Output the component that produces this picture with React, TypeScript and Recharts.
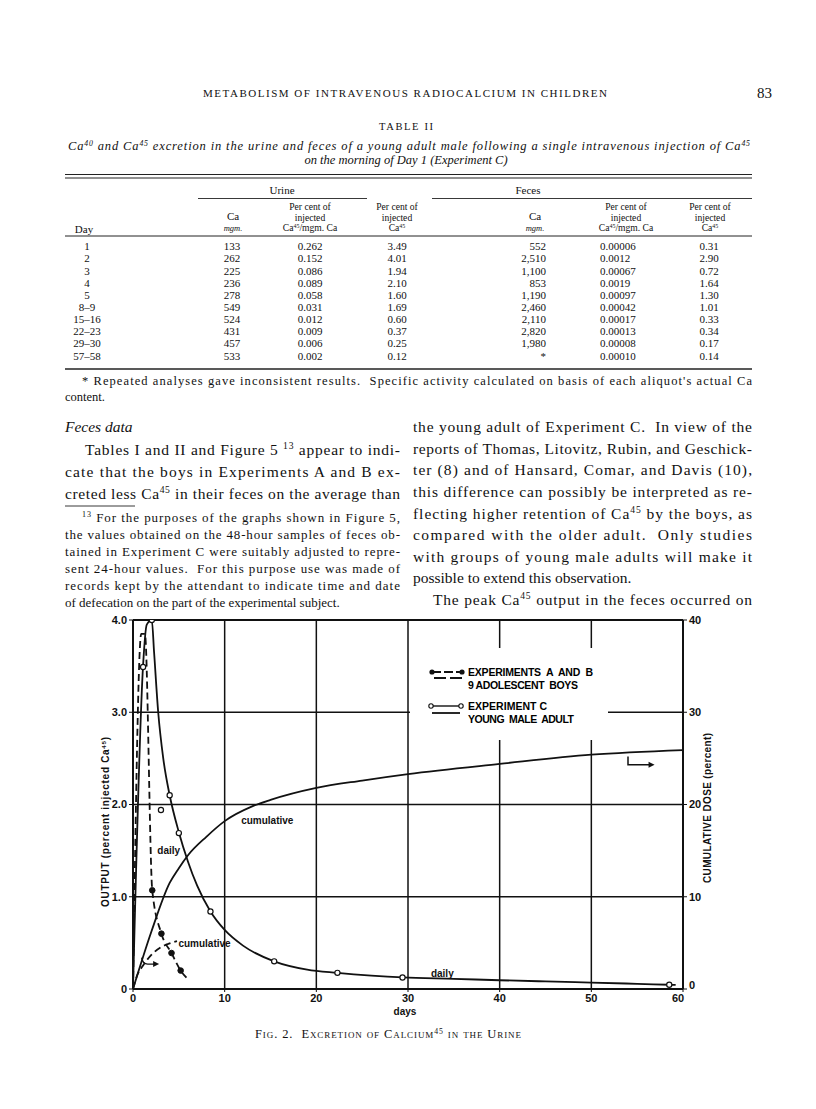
import React from 'react';
import { ComposedChart, Line, XAxis, YAxis, CartesianGrid, ReferenceLine, Legend } from 'recharts';

// ---------- chart data ----------
const xTicks = [0, 10, 20, 30, 40, 50, 60];
const leftTicks = [0, 1, 2, 3, 4];
const rightTicks = [0, 10, 20, 30, 40];

// Experiment C, daily output curve (left axis, % injected Ca45)
const cDailyCurve = [
  { x: 0, y: 0 }, { x: 1.1, y: 3.51 }, { x: 1.5, y: 3.95 }, { x: 2.05, y: 4.0 }, { x: 2.3, y: 3.65 },
  { x: 2.75, y: 3.0 }, { x: 3.3, y: 2.5 }, { x: 4.0, y: 2.1 }, { x: 5.0, y: 1.7 }, { x: 6.0, y: 1.38 },
  { x: 7.0, y: 1.12 }, { x: 8.45, y: 0.84 }, { x: 10, y: 0.64 }, { x: 12, y: 0.47 }, { x: 15.4, y: 0.3 },
  { x: 19, y: 0.21 }, { x: 22.3, y: 0.175 }, { x: 26, y: 0.145 }, { x: 29.4, y: 0.125 }, { x: 35, y: 0.11 },
  { x: 40, y: 0.095 }, { x: 45, y: 0.082 }, { x: 50, y: 0.07 }, { x: 55, y: 0.056 }, { x: 58.5, y: 0.046 },
  { x: 59.2, y: 0.044 },
];
// Experiment C, measured daily points
const cDailyPoints = [
  { x: 1.1, y: 3.49 }, { x: 2.05, y: 4.0 }, { x: 3.05, y: 1.94 }, { x: 4.0, y: 2.1 }, { x: 5.0, y: 1.69 },
  { x: 8.45, y: 0.84 }, { x: 15.4, y: 0.3 }, { x: 22.3, y: 0.175 }, { x: 29.4, y: 0.125 }, { x: 58.5, y: 0.046 },
];
// Experiment C, cumulative (right axis, % dose)
const cCumulative = [
  { x: 0, y: 0 }, { x: 2, y: 6.2 }, { x: 4, y: 11.5 }, { x: 5, y: 13.1 }, { x: 6, y: 14.5 }, { x: 8, y: 16.5 },
  { x: 10, y: 18.2 }, { x: 13, y: 19.8 }, { x: 15, y: 20.5 }, { x: 20, y: 21.8 }, { x: 25, y: 22.6 },
  { x: 30, y: 23.3 }, { x: 40, y: 24.4 }, { x: 50, y: 25.4 }, { x: 60, y: 25.9 },
];
// Experiments A and B, daily (left axis)
const abDailyCurve = [
  { x: 0, y: 0 }, { x: 0.9, y: 3.85 }, { x: 1.3, y: 3.85 }, { x: 2.1, y: 1.07 }, { x: 3.1, y: 0.6 },
  { x: 4.2, y: 0.39 }, { x: 5.2, y: 0.2 }, { x: 5.9, y: 0.115 },
];
const abDailyPoints = [
  { x: 2.1, y: 1.07 }, { x: 3.1, y: 0.6 }, { x: 4.2, y: 0.39 }, { x: 5.2, y: 0.2 },
];
// Experiments A and B, cumulative (right axis)
const abCumulative = [
  { x: 0, y: 0 }, { x: 0.5, y: 1.6 }, { x: 1, y: 2.4 }, { x: 2, y: 3.7 }, { x: 3, y: 4.5 }, { x: 4, y: 4.95 }, { x: 4.8, y: 5.2 },
];

// ---------- table data ----------
const dayLabels = ['1', '2', '3', '4', '5', '8–9', '15–16', '22–23', '29–30', '57–58'];
const urineCa = ['133', '262', '225', '236', '278', '549', '524', '431', '457', '533'];
const urineSpec = ['0.262', '0.152', '0.086', '0.089', '0.058', '0.031', '0.012', '0.009', '0.006', '0.002'];
const urinePct = ['3.49', '4.01', '1.94', '2.10', '1.60', '1.69', '0.60', '0.37', '0.25', '0.12'];
const fecesCa = ['552', '2,510', '1,100', '853', '1,190', '2,460', '2,110', '2,820', '1,980', '*'];
const fecesSpec = ['0.00006', '0.0012', '0.00067', '0.0019', '0.00097', '0.00042', '0.00017', '0.00013', '0.00008', '0.00010'];
const fecesPct = ['0.31', '2.90', '0.72', '1.64', '1.30', '1.01', '0.33', '0.34', '0.17', '0.14'];

// ---------- body text ----------
const leftLines = [
  'Tables I and II and Figure 5 ^{13} appear to indi-',
  'cate that the boys in Experiments A and B ex-',
  'creted less Ca^{45} in their feces on the average than',
];
const footLines = [
  '^{13} For the purposes of the graphs shown in Figure 5,',
  'the values obtained on the 48-hour samples of feces ob-',
  'tained in Experiment C were suitably adjusted to repre-',
  'sent 24-hour values.  For this purpose use was made of',
  'records kept by the attendant to indicate time and date',
  'of defecation on the part of the experimental subject.',
];
const rightLines = [
  'the young adult of Experiment C.  In view of the',
  'reports of Thomas, Litovitz, Rubin, and Geschick-',
  'ter (8) and of Hansard, Comar, and Davis (10),',
  'this difference can possibly be interpreted as re-',
  'flecting higher retention of Ca^{45} by the boys, as',
  'compared with the older adult.  Only studies',
  'with groups of young male adults will make it',
  'possible to extend this observation.',
  'The peak Ca^{45} output in the feces occurred on',
];

const SERIF = '"Liberation Serif", "DejaVu Serif", serif';
const SANS = '"Liberation Sans", Arial, sans-serif';

// plot area geometry on the page (for annotations only)
const PX0 = 133, PX1 = 683, PY0 = 989, PY1 = 620;
const px = (d: number) => PX0 + (d * (PX1 - PX0)) / 60;
const py = (v: number) => PY0 - (v * (PY0 - PY1)) / 4;

type TProps = {
  x: number; y: number; s: string; size?: number; anchor?: 'start' | 'middle' | 'end';
  len?: number; italic?: boolean; bold?: boolean; family?: string; spacing?: number; variant?: string;
  rotate?: number;
};

function T({ x, y, s, size = 15, anchor = 'start', len, italic, bold, family = SERIF, spacing, variant, rotate }: TProps) {
  const parts = s.split(/\^\{([^}]*)\}/);
  const children: React.ReactNode[] = [];
  let raised = false;
  parts.forEach((p, i) => {
    if (p === '') return;
    if (i % 2 === 1) {
      children.push(
        <tspan key={i} dy={-size * 0.38} fontSize={size * 0.62}>{p}</tspan>
      );
      raised = true;
    } else {
      children.push(
        <tspan key={i} dy={raised ? size * 0.38 : 0}>{p}</tspan>
      );
      raised = false;
    }
  });
  const base = y + size * 0.34;
  return (
    <text
      x={x}
      y={base}
      fontSize={size}
      fontFamily={family}
      fontStyle={italic ? 'italic' : 'normal'}
      fontWeight={bold ? 'bold' : 'normal'}
      textAnchor={anchor}
      letterSpacing={spacing}
      style={variant ? { fontVariant: variant, whiteSpace: 'pre' } : { whiteSpace: 'pre' }}
      textLength={len}
      lengthAdjust={len ? 'spacing' : undefined}
      fill="#111"
      transform={rotate ? `rotate(${rotate} ${x} ${y})` : undefined}
    >
      {children}
    </text>
  );
}

function PageText() {
  const rowY = (i: number) => 246.5 + i * 12.15;
  const RS = 11;
  const HS = 9.6;
  return (
    <svg width={816} height={1109} style={{ position: 'absolute', left: 0, top: 0 }}>
      {/* running head */}
      <T x={203} y={93} s="METABOLISM OF INTRAVENOUS RADIOCALCIUM IN CHILDREN" size={11} len={404} />
      <T x={772} y={93} s="83" size={15} anchor="end" />
      {/* table title */}
      <T x={406} y={126} s="TABLE II" size={10.5} anchor="middle" len={54} />
      <T x={68} y={146} s="Ca^{40} and Ca^{45} excretion in the urine and feces of a young adult male following a single intravenous injection of Ca^{45}" size={12.5} italic len={682} />
      <T x={406} y={160} s="on the morning of Day 1 (Experiment C)" size={12.5} italic anchor="middle" />
      {/* rules */}
      <line x1={65} x2={752} y1={174.5} y2={174.5} stroke="#222" strokeWidth={1} />
      <line x1={65} x2={752} y1={178} y2={178} stroke="#222" strokeWidth={1} />
      <T x={282} y={190} s="Urine" size={11} anchor="middle" />
      <T x={528} y={190} s="Feces" size={11} anchor="middle" />
      <line x1={198} x2={367} y1={198.5} y2={198.5} stroke="#222" strokeWidth={0.9} />
      <line x1={432} x2={752} y1={198.5} y2={198.5} stroke="#222" strokeWidth={0.9} />
      {/* column headers */}
      <T x={84} y={229} s="Day" size={11} anchor="middle" />
      <T x={233} y={216} s="Ca" size={11} anchor="middle" />
      <T x={233} y={228.5} s="mgm." size={8.5} italic anchor="middle" />
      <T x={310} y={207} s="Per cent of" size={HS} anchor="middle" />
      <T x={310} y={217.5} s="injected" size={HS} anchor="middle" />
      <T x={310} y={228} s="Ca^{45}/mgm. Ca" size={HS} anchor="middle" />
      <T x={397} y={207} s="Per cent of" size={HS} anchor="middle" />
      <T x={397} y={217.5} s="injected" size={HS} anchor="middle" />
      <T x={397} y={228} s="Ca^{45}" size={HS} anchor="middle" />
      <T x={535} y={216} s="Ca" size={11} anchor="middle" />
      <T x={535} y={228.5} s="mgm." size={8.5} italic anchor="middle" />
      <T x={626} y={207} s="Per cent of" size={HS} anchor="middle" />
      <T x={626} y={217.5} s="injected" size={HS} anchor="middle" />
      <T x={626} y={228} s="Ca^{45}/mgm. Ca" size={HS} anchor="middle" />
      <T x={710} y={207} s="Per cent of" size={HS} anchor="middle" />
      <T x={710} y={217.5} s="injected" size={HS} anchor="middle" />
      <T x={710} y={228} s="Ca^{45}" size={HS} anchor="middle" />
      <line x1={65} x2={752} y1={236} y2={236} stroke="#222" strokeWidth={1} />
      {dayLabels.map((d, i) => (
        <g key={i}>
          <T x={87} y={rowY(i)} s={d} size={RS} anchor="middle" />
          <T x={232} y={rowY(i)} s={urineCa[i]} size={RS} anchor="middle" />
          <T x={310} y={rowY(i)} s={urineSpec[i]} size={RS} anchor="middle" />
          <T x={397} y={rowY(i)} s={urinePct[i]} size={RS} anchor="middle" />
          <T x={546} y={rowY(i)} s={fecesCa[i]} size={RS} anchor="end" />
          <T x={600} y={rowY(i)} s={fecesSpec[i]} size={RS} />
          <T x={709} y={rowY(i)} s={fecesPct[i]} size={RS} anchor="middle" />
        </g>
      ))}
      <line x1={65} x2={752} y1={369} y2={369} stroke="#222" strokeWidth={1.6} />
      <T x={82} y={381} s="* Repeated analyses gave inconsistent results.  Specific activity calculated on basis of each aliquot's actual Ca" size={12.5} len={670} />
      <T x={65} y={397} s="content." size={12.5} />

      {/* left column */}
      <T x={65} y={427} s="Feces data" size={15.5} italic />
      {leftLines.map((l, i) => (
        <T key={i} x={i === 0 ? 85 : 65} y={450 + i * 22} s={l} size={15.5} len={i === 0 ? 315 : 335} />
      ))}
      <line x1={65} x2={135} y1={506} y2={506} stroke="#222" strokeWidth={0.9} />
      {footLines.map((l, i) => (
        <T key={i} x={i === 0 ? 82 : 65} y={518 + i * 17} s={l} size={13} len={i === 5 ? undefined : i === 0 ? 318 : 335} />
      ))}
      {/* right column */}
      {rightLines.map((l, i) => (
        <T key={i} x={i === 8 ? 433 : 413} y={427 + i * 21.6} s={l} size={15.5}
          len={i === 7 ? undefined : i === 8 ? 319 : 339} />
      ))}

      {/* axis titles and caption */}
      <T x={106} y={822} s="OUTPUT (percent injected Ca^{45})" size={10} family={SANS} bold anchor="middle" rotate={-90} len={170} />
      <T x={708} y={808} s="CUMULATIVE DOSE (percent)" size={10} family={SANS} bold anchor="middle" rotate={-90} len={150} />
      <T x={405} y={1012} s="days" size={10} family={SANS} bold anchor="middle" />
      <T x={388} y={1034} s="Fig. 2.  Excretion of Calcium^{45} in the Urine" size={12.5} anchor="middle" variant="small-caps" len={266} />

      {/* in-plot annotations */}
      <T x={px(2.65)} y={py(1.5)} s="daily" size={10} family={SANS} bold />
      <T x={px(11.8)} y={py(1.83)} s="cumulative" size={10} family={SANS} bold />
      <T x={px(4.95)} y={py(0.49)} s="cumulative" size={10} family={SANS} bold />
      <T x={px(32.5)} y={py(0.17)} s="daily" size={10} family={SANS} bold />
      {/* small arrows */}
      <path d={`M${px(54)} ${py(2.52)} V${py(2.43)} H${px(56.6)}`} fill="none" stroke="#111" strokeWidth={1.5} />
      <path d={`M${px(56.9)} ${py(2.43)} l-6 -3 v6 z`} fill="#111" />
      <path d={`M${px(0.95)} ${py(0.34)} Q${px(1.05)} ${py(0.27)} ${px(1.6)} ${py(0.27)} H${px(2.5)}`} fill="none" stroke="#111" strokeWidth={1.4} />
      <path d={`M${px(2.85)} ${py(0.27)} l-6 -3 v6 z`} fill="#111" />
    </svg>
  );
}

const openDot = (props: any) => {
  const { cx, cy, index } = props;
  if (cx == null || cy == null) return <g key={index} />;
  return <circle key={index} cx={cx} cy={cy} r={2.6} fill="#fff" stroke="#111" strokeWidth={1.2} />;
};
const filledDot = (props: any) => {
  const { cx, cy, index } = props;
  if (cx == null || cy == null) return <g key={index} />;
  return <circle key={index} cx={cx} cy={cy} r={2.8} fill="#111" stroke="#111" strokeWidth={1} />;
};

const legendTexts = ['EXPERIMENTS  A  AND  B', '9 ADOLESCENT  BOYS', 'EXPERIMENT C', 'YOUNG  MALE  ADULT'];

function LegendBox() {
  return (
    <svg width={198} height={92}>
      <rect x={0} y={0} width={198} height={92} fill="#fff" />
      <line x1={22} x2={52} y1={24} y2={24} stroke="#111" strokeWidth={1.8} strokeDasharray="9 3" />
      <circle cx={22} cy={24} r={2.6} fill="#111" />
      <circle cx={52} cy={24} r={2.6} fill="#111" />
      <line x1={24} x2={52} y1={30} y2={30} stroke="#111" strokeWidth={1.8} strokeDasharray="12 4" />
      <line x1={22} x2={50} y1={58} y2={58} stroke="#111" strokeWidth={1.4} />
      <circle cx={21} cy={58} r={2.2} fill="#fff" stroke="#111" strokeWidth={1.1} />
      <circle cx={51} cy={58} r={2.2} fill="#fff" stroke="#111" strokeWidth={1.1} />
      <line x1={22} x2={50} y1={65} y2={65} stroke="#111" strokeWidth={1.8} />
      <text x={58} y={24 + 3.6} fontSize={10.5} fontFamily={SANS} fontWeight="bold" textLength={125} lengthAdjust="spacing" style={{ whiteSpace: 'pre' }}>{legendTexts[0]}</text>
      <text x={58} y={37 + 3.6} fontSize={10.5} fontFamily={SANS} fontWeight="bold" textLength={110} lengthAdjust="spacing" style={{ whiteSpace: 'pre' }}>{legendTexts[1]}</text>
      <text x={58} y={58 + 3.6} fontSize={10.5} fontFamily={SANS} fontWeight="bold" textLength={79} lengthAdjust="spacing" style={{ whiteSpace: 'pre' }}>{legendTexts[2]}</text>
      <text x={58} y={71 + 3.6} fontSize={10.5} fontFamily={SANS} fontWeight="bold" textLength={106} lengthAdjust="spacing" style={{ whiteSpace: 'pre' }}>{legendTexts[3]}</text>
    </svg>
  );
}

const tickStyle = { fontSize: 11, fontFamily: SANS, fontWeight: 'bold', fill: '#111' } as any;

const XTick = (props: any) => {
  const { x, y, payload } = props;
  const v = payload?.value;
  const dx = v === 60 ? -5 : 0;
  return (
    <text x={x + dx} y={y} dy="0.71em" textAnchor="middle" {...tickStyle}>{String(v)}</text>
  );
};
const RightTick = (props: any) => {
  const { x, y, payload } = props;
  const v = payload?.value;
  const dy = v === 0 ? -4 : 0;
  return (
    <text x={x} y={y + dy} dy="0.355em" textAnchor="start" {...tickStyle}>{String(v)}</text>
  );
};

export default function App() {
  return (
    <div style={{ position: 'absolute', left: 0, top: 0, width: 816, height: 1109, background: '#fff', overflow: 'hidden' }}>
      <PageText />
      <div style={{ position: 'absolute', left: 0, top: 560 }}>
        <ComposedChart width={816} height={500} margin={{ top: 60, right: 93, bottom: 41, left: 93 }}>
          <CartesianGrid yAxisId="left" stroke="#111" strokeWidth={1.5} fill="none" />
          <XAxis
            type="number" dataKey="x" domain={[0, 60]} ticks={xTicks} allowDataOverflow
            tickSize={3} tick={<XTick />} height={30} stroke="#111"
            axisLine={{ stroke: '#111', strokeWidth: 2 }}
          />
          <YAxis
            yAxisId="left" type="number" dataKey="y" domain={[0, 4]} ticks={leftTicks} allowDataOverflow
            width={40} tickSize={4} tick={tickStyle} stroke="#111"
            axisLine={{ stroke: '#111', strokeWidth: 2 }}
            tickFormatter={(v: number) => (v === 0 ? '0' : v.toFixed(1))}
          />
          <YAxis
            yAxisId="right" orientation="right" type="number" dataKey="y" domain={[0, 40]} ticks={rightTicks} allowDataOverflow
            width={40} tickSize={4} tick={<RightTick />} stroke="#111"
            axisLine={{ stroke: '#111', strokeWidth: 2 }}
          />
          <ReferenceLine yAxisId="left" y={4} stroke="#111" strokeWidth={2} />
          <Line yAxisId="right" data={cCumulative} dataKey="y" type="monotone" stroke="#111" strokeWidth={1.8} dot={false} isAnimationActive={false} legendType="none" />
          <Line yAxisId="right" data={abCumulative} dataKey="y" type="monotone" stroke="#111" strokeWidth={1.8} strokeDasharray="7 4" dot={false} isAnimationActive={false} legendType="none" />
          <Line yAxisId="left" data={abDailyCurve} dataKey="y" type="monotone" stroke="#111" strokeWidth={1.8} strokeDasharray="7 4" dot={false} isAnimationActive={false} legendType="none" />
          <Line yAxisId="left" data={abDailyPoints} dataKey="y" stroke="none" dot={filledDot} isAnimationActive={false} legendType="none" />
          <Line yAxisId="left" data={cDailyCurve} dataKey="y" type="monotone" stroke="#111" strokeWidth={1.8} dot={false} isAnimationActive={false} legendType="none" />
          <Line yAxisId="left" data={cDailyPoints} dataKey="y" stroke="none" dot={openDot} isAnimationActive={false} legendType="none" />
          <Legend
            verticalAlign="middle" align="center" layout="horizontal"
            content={() => <LegendBox />}
            wrapperStyle={{ position: 'absolute', left: 410, top: 88, width: 198, height: 92, lineHeight: 0 }}
          />
        </ComposedChart>
      </div>
    </div>
  );
}
